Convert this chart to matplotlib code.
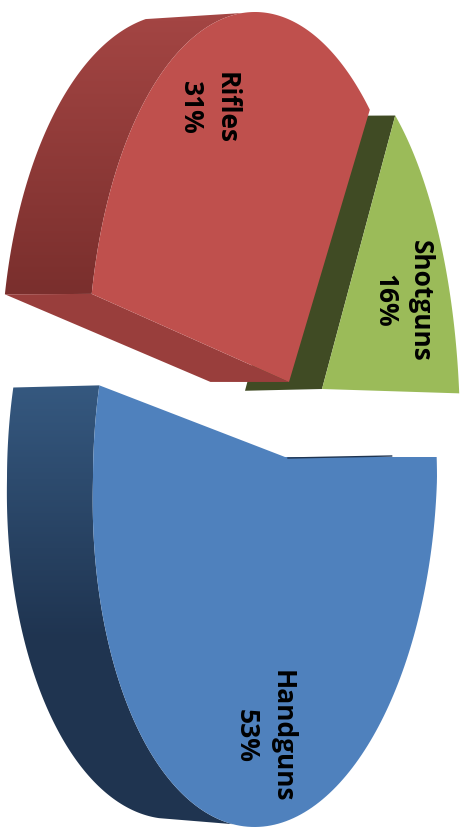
import numpy as np
import matplotlib
matplotlib.use('Agg')
import matplotlib.pyplot as plt
from matplotlib.colors import LinearSegmentedColormap
from matplotlib.patches import Polygon

labels = ['Handguns', 'Rifles', 'Shotguns']
shares = [53, 31, 16]

top_colors = ['#4f81bd', '#bf504d', '#9bbb59']
low_colors = ['#1f3450', '#7a2f2d', '#404b24']
up_colors = ['#35587f', '#a34543', '#404b24']

# ellipse of each top face and of its back face: cx, cy, rx, ry, shear
front = [(265, 480, 172, 348, -0.03), (255, 370, 167, 357, 0), (313, 434, 147, 383, 0)]
back = [(178, 480, 171, 340, -0.02), (175, 370, 174, 355, 0), (236, 436, 147, 385, 0)]
apex = [(285, 458), (289, 383), (322, 390)]
label_pos = [(264, 736), (208, 108), (403, 301)]

# the warped picture moves the slice edges a little off the true angles
start_adj = [0, 1.0, 2.5]
end_adj = [0, 0, 0.7]

# how far round the outer wall shows, on the back and on the front ellipse
wall_back = [100, 250, None]
wall_front = [103, 255, None]
# y range of the wall gradient
grad_range = [(388, 640), (20, 293), None]


def arc(ell, norm, a0, a1, n=160):
    # rays out of the apex, in ellipse units, until they hit the rim
    cx, cy, rx, ry, shear = ell
    t = np.radians(np.linspace(a0, a1, n))
    dx, dy = np.cos(t), np.sin(t)
    b = norm[0] * dx + norm[1] * dy
    s = -b + np.sqrt(b ** 2 + 1 - norm[0] ** 2 - norm[1] ** 2)
    y = cy + ry * (norm[1] + s * dy)
    x = cx + rx * (norm[0] + s * dx) + shear * np.maximum(y - cy, 0)
    return np.column_stack([x, y])


def gradient_fill(ax, pts, c_top, c_low, y0, y1, zorder):
    cmap = LinearSegmentedColormap.from_list('side', [c_top, c_low])
    grad = np.clip((np.arange(828) - y0) / (y1 - y0), 0, 1).reshape(-1, 1)
    im = ax.imshow(grad, cmap=cmap, extent=(0, 461, 828, 0), aspect='auto', zorder=zorder)
    im.set_clip_path(Polygon(pts, closed=True, transform=ax.transData))


fig = plt.figure(figsize=(4.61, 8.28), dpi=100)
ax = fig.add_axes([0, 0, 1, 1])

edges = np.cumsum([0] + shares) * 360 / sum(shares)

# small slice first, the red one overlaps its cut face
for i in [2, 0, 1]:
    a0, a1 = edges[i] + start_adj[i], edges[i + 1] + end_adj[i]
    fr, bk = front[i], back[i]
    norm = ((apex[i][0] - fr[0]) / fr[2], (apex[i][1] - fr[1]) / fr[3])
    back_apex = (bk[0] + norm[0] * bk[2], bk[1] + norm[1] * bk[3])
    top = arc(fr, norm, a0, a1)

    if i == 0:
        # wall round the rim, dark towards the bottom
        pts = np.vstack([arc(bk, norm, a1, wall_back[i]), arc(fr, norm, wall_front[i], a1)])
        gradient_fill(ax, pts, up_colors[i], low_colors[i], *grad_range[i], 2)
        # sliver of the cut face behind the right edge
        ax.plot([apex[i][0] + 3, top[0, 0] - 45], [apex[i][1] + 1, top[0, 1] - 1],
                color=low_colors[i], lw=1, zorder=4)
    if i == 1:
        pts = np.vstack([arc(bk, norm, a0, wall_back[i]), arc(fr, norm, wall_front[i], a0)])
        gradient_fill(ax, pts, up_colors[i], low_colors[i], *grad_range[i], 5)
        # flat cut face under the slice
        ax.add_patch(Polygon([apex[i], top[0], arc(bk, norm, a0, a0, 1)[0], back_apex],
                             closed=True, fc='#993e3c', ec='none', zorder=5))
    if i == 2:
        ax.add_patch(Polygon([apex[i], top[0], arc(bk, norm, a0, a0, 1)[0], back_apex],
                             closed=True, fc=low_colors[i], ec='none', zorder=1))

    ax.add_patch(Polygon(np.vstack([[apex[i]], top]), closed=True, fc=top_colors[i], ec='none',
                         zorder=6 if i == 1 else 3))

for name, val, pos in zip(labels, shares, label_pos):
    ax.text(pos[0], pos[1], f'{name}\n{val}%', rotation=270, ha='center', va='center',
            family=['Open Sans', 'DejaVu Sans'], fontweight='bold', fontsize=19, linespacing=1.4,
            color='black', zorder=10, multialignment='center')

ax.set_xlim(0, 461)
ax.set_ylim(828, 0)
ax.axis('off')
fig.savefig('out.png', dpi=100)
